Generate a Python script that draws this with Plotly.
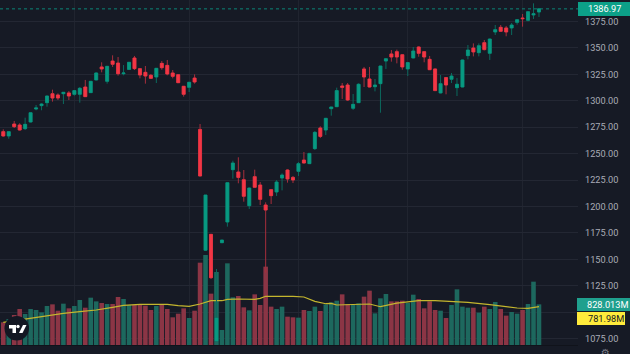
import plotly.graph_objects as go

opens = [1270.8,1266.7,1278.0,1277.1,1273.6,1279.9,1292.2,1295.4,1298.2,1306.7,1305.5,1306.7,1307.4,1306.1,1306.1,1313.0,1307.7,1319.7,1332.0,1318.4,
         1337.6,1335.7,1325.6,1329.7,1340.5,1330.4,1326.9,1324.1,1322.5,1335.4,1333.5,1326.3,1324.7,1313.7,1312.7,1321.5,1272.9,1158.5,1173.6,1072.7,
         1165.7,1185.3,1234.8,1232.6,1225.3,1200.7,1228.2,1220.3,1201.4,1215.9,1213.7,1226.9,1234.5,1227.5,1233.2,1243.9,1240.5,1254.7,1274.2,1272.3,
         1292.5,1294.4,1314.0,1314.9,1292.9,1298.2,1330.1,1320.6,1313.3,1316.2,1337.6,1344.3,1346.5,1343.6,1330.1,1340.5,1350.9,1346.5,1339.2,1330.1,
         1307.4,1321.9,1320.3,1312.4,1313.0,1342.7,1349.9,1345.5,1355.0,1344.9,1365.1,1369.5,1368.9,1368.9,1374.2,1378.3,1376.1,1381.2,1384.0]
highs = [1273.0,1271.1,1280.9,1278.7,1284.0,1289.1,1296.0,1297.6,1304.8,1310.5,1307.0,1308.3,1309.2,1309.9,1313.0,1319.7,1318.7,1326.9,1336.4,1332.9,
         1343.0,1341.4,1333.8,1336.7,1342.4,1330.7,1332.9,1325.3,1331.0,1337.6,1338.6,1329.1,1325.3,1314.0,1317.8,1325.0,1278.0,1210.8,1174.0,1140.8,
         1168.2,1222.5,1243.3,1246.5,1234.5,1217.8,1234.8,1223.1,1203.9,1216.5,1225.0,1231.3,1235.1,1228.8,1242.0,1251.5,1250.6,1271.4,1275.8,1283.7,
         1294.1,1312.4,1316.8,1316.8,1306.4,1316.5,1332.0,1332.0,1320.6,1332.9,1340.2,1348.0,1348.4,1343.9,1336.4,1350.9,1351.5,1347.1,1342.4,1330.4,
         1324.4,1322.2,1326.3,1321.5,1338.9,1352.8,1354.3,1354.3,1357.5,1358.8,1371.7,1371.7,1370.8,1373.6,1377.4,1382.1,1384.9,1392.2,1387.5]
lows = [1266.0,1264.1,1274.2,1272.0,1272.3,1279.6,1291.0,1291.0,1294.4,1299.2,1300.7,1296.9,1300.7,1304.8,1298.2,1303.6,1307.4,1319.3,1326.9,1316.2,
        1332.0,1323.8,1324.1,1329.4,1329.1,1321.2,1316.2,1320.6,1316.8,1329.4,1324.1,1321.2,1316.8,1303.9,1308.3,1316.2,1228.6,1157.8,1131.3,1072.4,
        1165.7,1180.9,1226.3,1221.9,1204.5,1197.6,1217.8,1201.4,1137.3,1202.3,1209.9,1215.2,1222.5,1222.2,1228.8,1240.8,1240.1,1253.4,1264.7,1267.6,
        1285.9,1294.1,1301.7,1299.8,1291.3,1297.9,1313.0,1312.7,1308.9,1288.7,1330.1,1337.0,1335.4,1329.4,1323.4,1340.2,1341.7,1336.4,1329.1,1309.2,
        1307.0,1306.1,1316.8,1304.5,1312.8,1339.2,1342.0,1342.0,1347.7,1338.6,1362.2,1365.4,1361.0,1362.2,1372.0,1370.1,1375.2,1377.4,1379.3]
closes = [1266.7,1270.8,1275.5,1272.3,1277.7,1288.7,1293.2,1296.9,1304.5,1302.6,1302.6,1308.0,1304.5,1309.6,1311.8,1303.9,1318.4,1326.3,1330.1,1332.6,
          1334.5,1325.6,1326.3,1336.4,1330.4,1324.4,1323.4,1321.2,1330.7,1331.3,1325.3,1323.1,1317.1,1306.1,1317.5,1317.8,1228.8,1210.8,1132.6,1094.4,
          1168.2,1222.5,1241.1,1227.5,1209.6,1217.4,1218.1,1206.7,1196.6,1210.2,1223.1,1229.7,1226.0,1225.0,1240.5,1241.1,1250.2,1270.1,1266.3,1283.4,
          1294.1,1309.6,1312.7,1300.7,1296.6,1315.6,1322.5,1313.0,1314.9,1332.9,1339.8,1341.4,1341.4,1332.0,1336.1,1347.1,1344.9,1341.4,1329.4,1309.6,
          1316.2,1314.9,1323.4,1315.6,1338.6,1348.0,1346.2,1352.1,1348.4,1358.4,1367.3,1365.7,1365.1,1371.7,1376.7,1377.7,1384.3,1382.4,1386.97]
volumes = [462,530,611,733,631,733,713,665,794,828,699,842,747,794,917,760,964,889,856,835,
           835,978,937,815,815,815,801,713,794,828,733,564,638,747,550,699,1677,1833,1046,1487,
           306,1664,971,998,767,706,1032,815,1596,781,733,781,577,564,557,713,693,781,693,828,
           869,903,1032,835,828,849,985,1107,645,951,1039,889,889,903,856,1025,937,747,889,713,
           699,550,815,1134,781,760,760,659,781,733,876,733,598,672,638,713,835,1290,828]
ma_index = [0,5,8,11,14,17,20,22,25,30,32,34,36,38,40,41,43,46,47,48,53,55,57,59,60,61,67,69,72,76,79,82,85,89,94,96,98]
ma_values = [462,544,597,646,678,713,768,809,829,829,801,785,835,902,902,931,937,931,951,992,992,978,890,841,849,815,835,780,852,902,902,882,870,821,754,748,782]
month_index = [13,34,54,74,95]
month_labels = ["Tháng 3","Tháng 4","Tháng 5","Tháng 6","Tháng 7"]
price_ticks = [1075,1100,1125,1150,1175,1200,1225,1250,1275,1300,1325,1350,1375]
hidden_tick = 1100
last_price = 1386.97
last_price_label = "1386.97"
volume_label = "828.013M"
ma_label = "781.98M"

W, H = 630, 354
L, R, T, B = 0, 52, 0, 9
PW, PH = W - L - R, H - T - B
BG = "#161A25"
GRID = "#232733"
UP, DOWN = "#089981", "#F23645"
UP_W, DOWN_W = "#0B6A5E", "#A62E3C"
UP_V, DOWN_V = "#1D685E", "#8B3545"
TXT = "#A9ACB5"
FONT = "Roboto"

def px(x): return (x - L) / PW
def py(y): return (PH + T - y) / PH

xs = list(range(len(closes)))
vol_colors = [UP_V if c >= o else DOWN_V for o, c in zip(opens, closes)]
body_hi = [max(o, c) for o, c in zip(opens, closes)]
body_lo = [min(o, c) for o, c in zip(opens, closes)]

fig = go.Figure()
fig.add_trace(go.Bar(x=xs, y=volumes, marker=dict(color=vol_colors, line_width=0), yaxis="y", hoverinfo="skip"))
fig.add_trace(go.Scatter(x=ma_index, y=ma_values, mode="lines", line=dict(color="#C4B62E", width=1.2), yaxis="y", hoverinfo="skip"))
fig.add_trace(go.Candlestick(x=xs, open=opens, high=highs, low=lows, close=closes, yaxis="y2",
    increasing=dict(line=dict(color=UP_W, width=1), fillcolor=UP_W),
    decreasing=dict(line=dict(color=DOWN_W, width=1), fillcolor=DOWN_W), hoverinfo="skip"))
fig.add_trace(go.Candlestick(x=xs, open=opens, high=body_hi, low=body_lo, close=closes, yaxis="y2",
    increasing=dict(line=dict(color=UP, width=0.5), fillcolor=UP),
    decreasing=dict(line=dict(color=DOWN, width=0.5), fillcolor=DOWN), hoverinfo="skip"))

shapes = [
    dict(type="line", xref="paper", x0=0, x1=1, yref="y2", y0=last_price, y1=last_price,
         line=dict(color="#0C8577", width=1, dash="dot")),
    dict(type="rect", xref="paper", yref="paper", x0=px(578), x1=px(630), y0=py(16), y1=py(2), fillcolor="#0CA088", line_width=0, layer="above"),
    dict(type="rect", xref="paper", yref="paper", x0=px(577), x1=px(630), y0=py(311), y1=py(298), fillcolor="#1FA08E", line_width=0, layer="above"),
    dict(type="rect", xref="paper", yref="paper", x0=px(577), x1=px(625), y0=py(325), y1=py(312), fillcolor="#FFEB3B", line_width=0, layer="above"),
    dict(type="circle", xref="paper", yref="paper", x0=px(4.5), x1=px(29), y0=py(340.5), y1=py(316), fillcolor="#131722", line_width=0, layer="above"),
    dict(type="circle", xref="paper", yref="paper", x0=px(16.3), x1=px(19.7), y0=py(328.2), y1=py(324.8), fillcolor="#FFFFFF", line_width=0, layer="above"),
    dict(type="path", xref="paper", yref="paper", fillcolor="#FFFFFF", line_width=0, layer="above",
         path="M {} {} L {} {} L {} {} L {} {} L {} {} L {} {} Z".format(px(9),py(325),px(16),py(325),px(16),py(333),px(12.5),py(333),px(12.5),py(328.5),px(9),py(328.5))),
    dict(type="path", xref="paper", yref="paper", fillcolor="#FFFFFF", line_width=0, layer="above",
         path="M {} {} L {} {} L {} {} L {} {} Z".format(px(23),py(325),px(26.5),py(325),px(22.5),py(333),px(19),py(333))),
]

def label(text, x, y, color, anchor="left", size=9.2, family=FONT):
    return dict(text=text, xref="paper", yref="paper", x=px(x), y=py(y), xanchor=anchor, yanchor="middle",
                showarrow=False, font=dict(family=family, size=size, color=color))

annotations = [
    label(last_price_label, 586, 9, "#FFFFFF"),
    label(volume_label, 585, 304.5, "#FFFFFF"),
    label(ma_label, 586, 318.5, "#131722"),
    label("⚙", 605, 352, "#787B86", anchor="center", size=10, family="DejaVu Sans"),
]

fig.update_layout(
    width=W, height=H, margin=dict(l=L, r=R, t=T, b=B, pad=0, autoexpand=False),
    paper_bgcolor=BG, plot_bgcolor=BG, showlegend=False, bargap=0.16, boxgap=0.22,
    font=dict(family=FONT, size=9.2, color=TXT), shapes=shapes, annotations=annotations,
    xaxis=dict(range=[-0.6, 105.14], rangeslider=dict(visible=False), tickmode="array", tickvals=month_index,
               ticktext=month_labels, showgrid=True, gridcolor="#20242F", gridwidth=1, zeroline=False, automargin=False,
               ticks="", showline=True, linecolor="#10131B", linewidth=1, ticklabelstandoff=4, tickfont=dict(size=9.2, color=TXT)),
    yaxis=dict(range=[0, 7028], visible=False, fixedrange=True, showgrid=False, zeroline=False, automargin=False),
    yaxis2=dict(range=[1068.9, 1395.35], overlaying="y", side="right", tickmode="array", tickvals=price_ticks,
                ticktext=["" if t == hidden_tick else f"{t:.2f}" for t in price_ticks], showgrid=True, gridcolor=GRID, gridwidth=1,
                zeroline=False, ticks="", showline=False, automargin=False, ticklabelstandoff=6, tickfont=dict(size=9.2, color=TXT)),
)

fig.write_html("out.html", config=dict(displayModeBar=False, staticPlot=True),
               post_script="document.body.style.margin='0';document.body.style.overflow='hidden';document.body.style.background='#161A25';")
